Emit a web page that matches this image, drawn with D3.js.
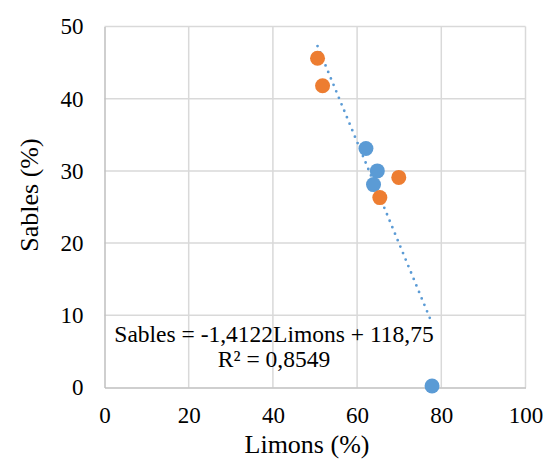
<!DOCTYPE html>
<html><head><meta charset="utf-8">
<script src="https://cdn.jsdelivr.net/npm/d3@7"></script>
<style>body{margin:0;background:#fff}svg{display:block}text{font-family:"Liberation Serif","Times New Roman",serif;fill:#000}</style>
</head><body>
<script>
const blueX = [62.1, 64.8, 63.9, 77.8];
const blueY = [33.1, 30.0, 28.1, 0.2];
const orangeX = [50.6, 51.8, 69.9, 65.4];
const orangeY = [45.6, 41.8, 29.1, 26.3];
const xTicks = [0, 20, 40, 60, 80, 100];
const yTicks = [0, 10, 20, 30, 40, 50];
const slope = -1.4122, intercept = 118.75;
const eqText = "Sables = -1,4122Limons + 118,75";
const r2Text = "R² = 0,8549";

const W = 547, H = 462;
const svg = d3.select("body").append("svg").attr("width", W).attr("height", H);
const x = d3.scaleLinear().domain([0, 100]).range([104.5, 525.5]);
const y = d3.scaleLinear().domain([0, 50]).range([387.5, 26.5]);

const g = svg.append("g");
// gridlines
g.selectAll(".vg").data(xTicks.slice(1)).enter().append("line")
  .attr("x1", d => x(d)).attr("x2", d => x(d)).attr("y1", y(0)).attr("y2", y(50))
  .attr("stroke", "#d9d9d9").attr("stroke-width", 1.5);
g.selectAll(".hg").data(yTicks.slice(1)).enter().append("line")
  .attr("x1", x(0)).attr("x2", x(100)).attr("y1", d => y(d)).attr("y2", d => y(d))
  .attr("stroke", "#d9d9d9").attr("stroke-width", 1.5);

// axes
const xAxis = d3.axisBottom(x).tickValues(xTicks).tickSize(0).tickPadding(19.5);
const yAxis = d3.axisLeft(y).tickValues(yTicks).tickSize(0).tickPadding(21);
const gx = svg.append("g").attr("transform", `translate(0,${y(0)})`).call(xAxis);
const gy = svg.append("g").attr("transform", `translate(${x(0)},0)`).call(yAxis);
[gx, gy].forEach(a => {
  a.select(".domain").attr("stroke", "#bfbfbf").attr("stroke-width", 1.5);
  a.selectAll("text").style("font-family", '"Liberation Serif","Times New Roman",serif').style("font-size", "23px").attr("fill", "#000");
});

// trendline
const allX = blueX.concat(orangeX);
const [xmin, xmax] = d3.extent(allX);
svg.append("line")
  .attr("x1", x(xmin)).attr("y1", y(slope * xmin + intercept))
  .attr("x2", x(xmax)).attr("y2", y(slope * xmax + intercept))
  .attr("stroke", "#5b9bd5").attr("stroke-width", 2.8)
  .attr("stroke-linecap", "round").attr("stroke-dasharray", "0 7");

// points
const blue = blueX.map((v, i) => [v, blueY[i]]);
const orange = orangeX.map((v, i) => [v, orangeY[i]]);
svg.selectAll(".b").data(blue).enter().append("circle")
  .attr("cx", d => x(d[0])).attr("cy", d => y(d[1])).attr("r", 7.5).attr("fill", "#5b9bd5");
svg.selectAll(".o").data(orange).enter().append("circle")
  .attr("cx", d => x(d[0])).attr("cy", d => y(d[1])).attr("r", 7.5).attr("fill", "#ed7d31");

// equation
svg.append("text").attr("x", 274).attr("y", 341.5).attr("text-anchor", "middle")
  .style("font-size", "23.5px").text(eqText);
svg.append("text").attr("x", 274).attr("y", 366.5).attr("text-anchor", "middle")
  .style("font-size", "23.5px").text(r2Text);

// axis titles
svg.append("text").attr("x", 307).attr("y", 453).attr("text-anchor", "middle")
  .style("font-size", "26px").text("Limons (%)");
svg.append("text").attr("transform", "translate(38,195) rotate(-90)").attr("text-anchor", "middle")
  .style("font-size", "26px").text("Sables (%)");
</script>
</body></html>
